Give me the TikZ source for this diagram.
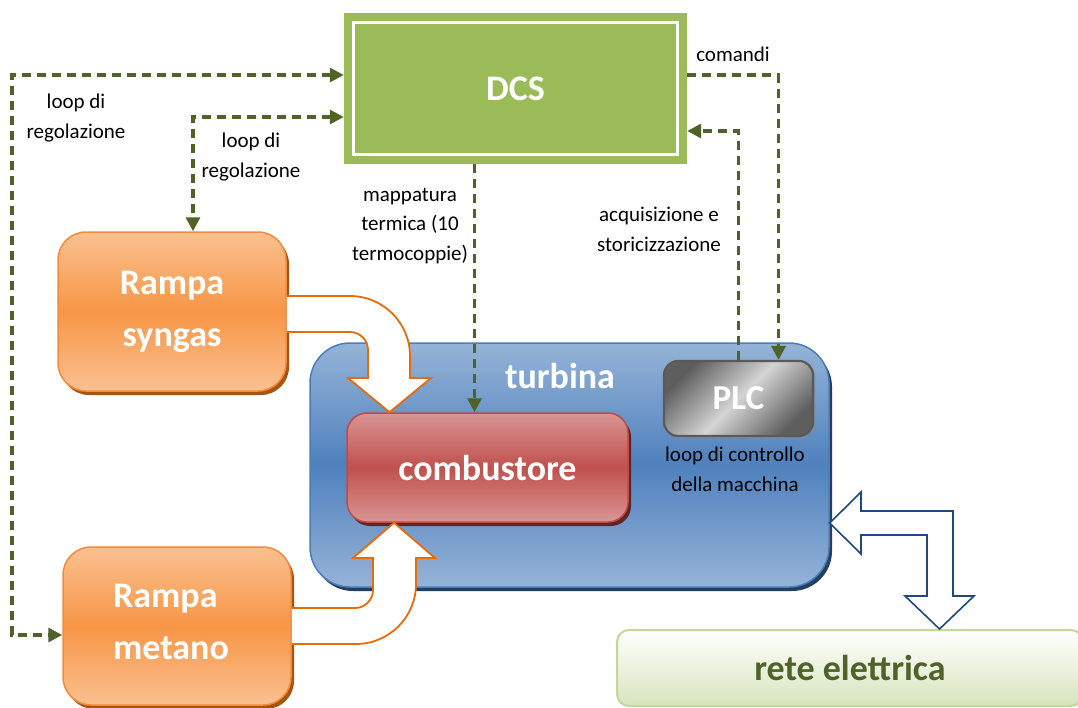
\documentclass[tikz,border=0pt]{standalone}
\usepackage{fontspec}
\setmainfont{Carlito}
\usetikzlibrary{arrows.meta,shadows}
\definecolor{dcsgreen}{HTML}{9BBB59}
\definecolor{dashgreen}{HTML}{4F6228}
\definecolor{orlight}{HTML}{FAC090}
\definecolor{ormid}{HTML}{F79646}
\definecolor{orborder}{HTML}{F28B3C}
\definecolor{orshadow}{HTML}{A65412}
\definecolor{orstroke}{HTML}{E46C0A}
\definecolor{bllight}{HTML}{95B3D7}
\definecolor{blmid}{HTML}{4F81BD}
\definecolor{blborder}{HTML}{4A7EBB}
\definecolor{blshadow}{HTML}{243F60}
\definecolor{blstroke}{HTML}{1F497D}
\definecolor{rdlight}{HTML}{D99694}
\definecolor{rdmid}{HTML}{C0504D}
\definecolor{rdborder}{HTML}{BE4B48}
\definecolor{rdshadow}{HTML}{632523}
\definecolor{grdark}{HTML}{5E5E5E}
\definecolor{grlight}{HTML}{D4D4D4}
\definecolor{grborder}{HTML}{5A5A5A}
\definecolor{retebottom}{HTML}{D7E4BD}
\definecolor{reteborder}{HTML}{C3D69B}
\begin{document}
\begin{tikzpicture}[x=1pt,y=-1pt,
  lbl/.style={font=\fontsize{21}{29.5}\selectfont, align=center, inner sep=0pt, text=black},
  bigw/.style={font=\fontsize{36}{52}\selectfont\bfseries, text=white, inner sep=0pt},
  dashline/.style={draw=dashgreen, line width=3.2pt, dash pattern=on 9pt off 6pt},
  tip/.style={-{Triangle[length=14pt,width=14pt]}},
  btip/.style={{Triangle[length=14pt,width=14pt]}-{Triangle[length=14pt,width=14pt]}},
  rampbox/.style={bigw, rectangle, rounded corners=28pt, draw=orborder, line width=1.5pt,
    top color=orlight, bottom color=orlight, middle color=ormid,
    general shadow={shadow xshift=3pt, shadow yshift=-4pt, fill=orshadow}},
  orarrow/.style={fill=white, draw=orstroke, line width=1.8pt, line join=miter},
  blarrow/.style={fill=white, draw=blstroke, line width=1.6pt, line join=miter}]
\clip (0,0) rectangle (1078,707);
\fill[white] (0,0) rectangle (1078,707);

% DCS
\node[bigw, rectangle, fill=dcsgreen, minimum width=343pt, minimum height=151pt] (dcs) at (515.5,88.5) {DCS};
\draw[white, line width=3pt] ([shift={(10pt,-10pt)}]dcs.north west) rectangle ([shift={(-9.5pt,10pt)}]dcs.south east);

% Rampe
\node[rampbox, minimum width=228pt, minimum height=159pt, align=center] (syngas) at (172,311.5) {Rampa\\syngas};
\node[rampbox, minimum width=228pt, minimum height=158pt, align=left] (metano) at (177,626) {\hspace*{-12pt}Rampa\\\hspace*{-12pt}metano\vspace*{8pt}};

% turbina
\node[rectangle, rounded corners=40pt, draw=blborder, line width=1.5pt,
  top color=bllight, bottom color=bllight, middle color=blmid,
  general shadow={shadow xshift=3pt, shadow yshift=-4pt, fill=blshadow},
  minimum width=519pt, minimum height=244pt] (turb) at (569.5,465) {};
\node[bigw, anchor=base] (turbtxt) at (560,388) {turbina};

% combustore
\node[bigw, rectangle, rounded corners=20pt, draw=rdborder, line width=1.5pt,
  top color=rdlight, bottom color=rdlight, middle color=rdmid,
  general shadow={shadow xshift=3pt, shadow yshift=-4pt, fill=rdshadow},
  minimum width=281pt, minimum height=109pt] (comb) at (487.5,467.5) {combustore};

% PLC
\node[bigw, font=\fontsize{35}{40}\selectfont\bfseries, rectangle, rounded corners=14pt, draw=grborder, line width=2.2pt,
  left color=grdark, right color=grdark, middle color=grlight, shading angle=45,
  general shadow={shadow xshift=2pt, shadow yshift=-2pt, fill=blshadow!60},
  minimum width=149pt, minimum height=75pt] (plc) at (738.5,398.5) {PLC};
\node[lbl, anchor=base] (plclbl) at (735,491) {loop di controllo\\della macchina};

% rete elettrica
\node[rectangle, rounded corners=12pt, draw=reteborder, line width=2pt,
  top color=white, bottom color=retebottom,
  font=\fontsize{36}{40}\selectfont\bfseries, text=dashgreen, inner sep=0pt,
  minimum width=466pt, minimum height=76pt] (rete) at (850,668) {rete elettrica};

% block arrows
\filldraw[orarrow] (syngas.east |- 0,296) -- (350,296) .. controls (383.1,296) and (410,322.9) .. (410,356)
  -- (410,378) -- (431,378) -- (comb.north -| 389.5,0) -- (348,378) -- (368,378) -- (368,350)
  .. controls (368,340.1) and (359.9,332) .. (350,332) -- (syngas.east |- 0,332);
\filldraw[orarrow] (metano.east |- 0,644) -- (356,644) .. controls (389.1,644) and (416,617.1) .. (416,584)
  -- (416,558) -- (435,558) -- (comb.south -| 394,0) -- (353,558) -- (373,558) -- (373,590)
  .. controls (373,599.9) and (364.9,608) .. (355,608) -- (metano.east |- 0,608);
\filldraw[blarrow] (turb.east |- 0,523) -- (861,492) -- (861,511) -- (953,511) -- (953,596) -- (974,596)
  -- (rete.north -| 939.5,0) -- (905,596) -- (927,596) -- (927,535) -- (861,535) -- (861,554) -- cycle;

% dashed connectors
\draw[dashline, btip] ([yshift=13.5pt]dcs.west) -| (12,635) -- ([yshift=-9pt]metano.west);
\draw[dashline, btip] ([yshift=-28.5pt]dcs.west) -| ([xshift=21pt]syngas.north);
\draw[dashline, tip] ([xshift=-41pt]dcs.south) -- ([xshift=-13pt]comb.north);
\draw[dashline, tip] ([yshift=13.5pt]dcs.east) -| ([xshift=40pt]plc.north);
\draw[dashline, tip] (plc.north) |- ([yshift=-42.5pt]dcs.east);

% labels
\node[lbl, anchor=base] (l1) at (76,138) {loop di\\regolazione};
\node[lbl, anchor=base] (l2) at (251,177) {loop di\\regolazione};
\node[lbl, anchor=base] (l3) at (410,260) {mappatura\\termica (10\\termocoppie)};
\node[lbl, anchor=base] (l4) at (733,61) {comandi};
\node[lbl, anchor=base] (l5) at (659,251) {acquisizione e\\storicizzazione};
\end{tikzpicture}
\end{document}
